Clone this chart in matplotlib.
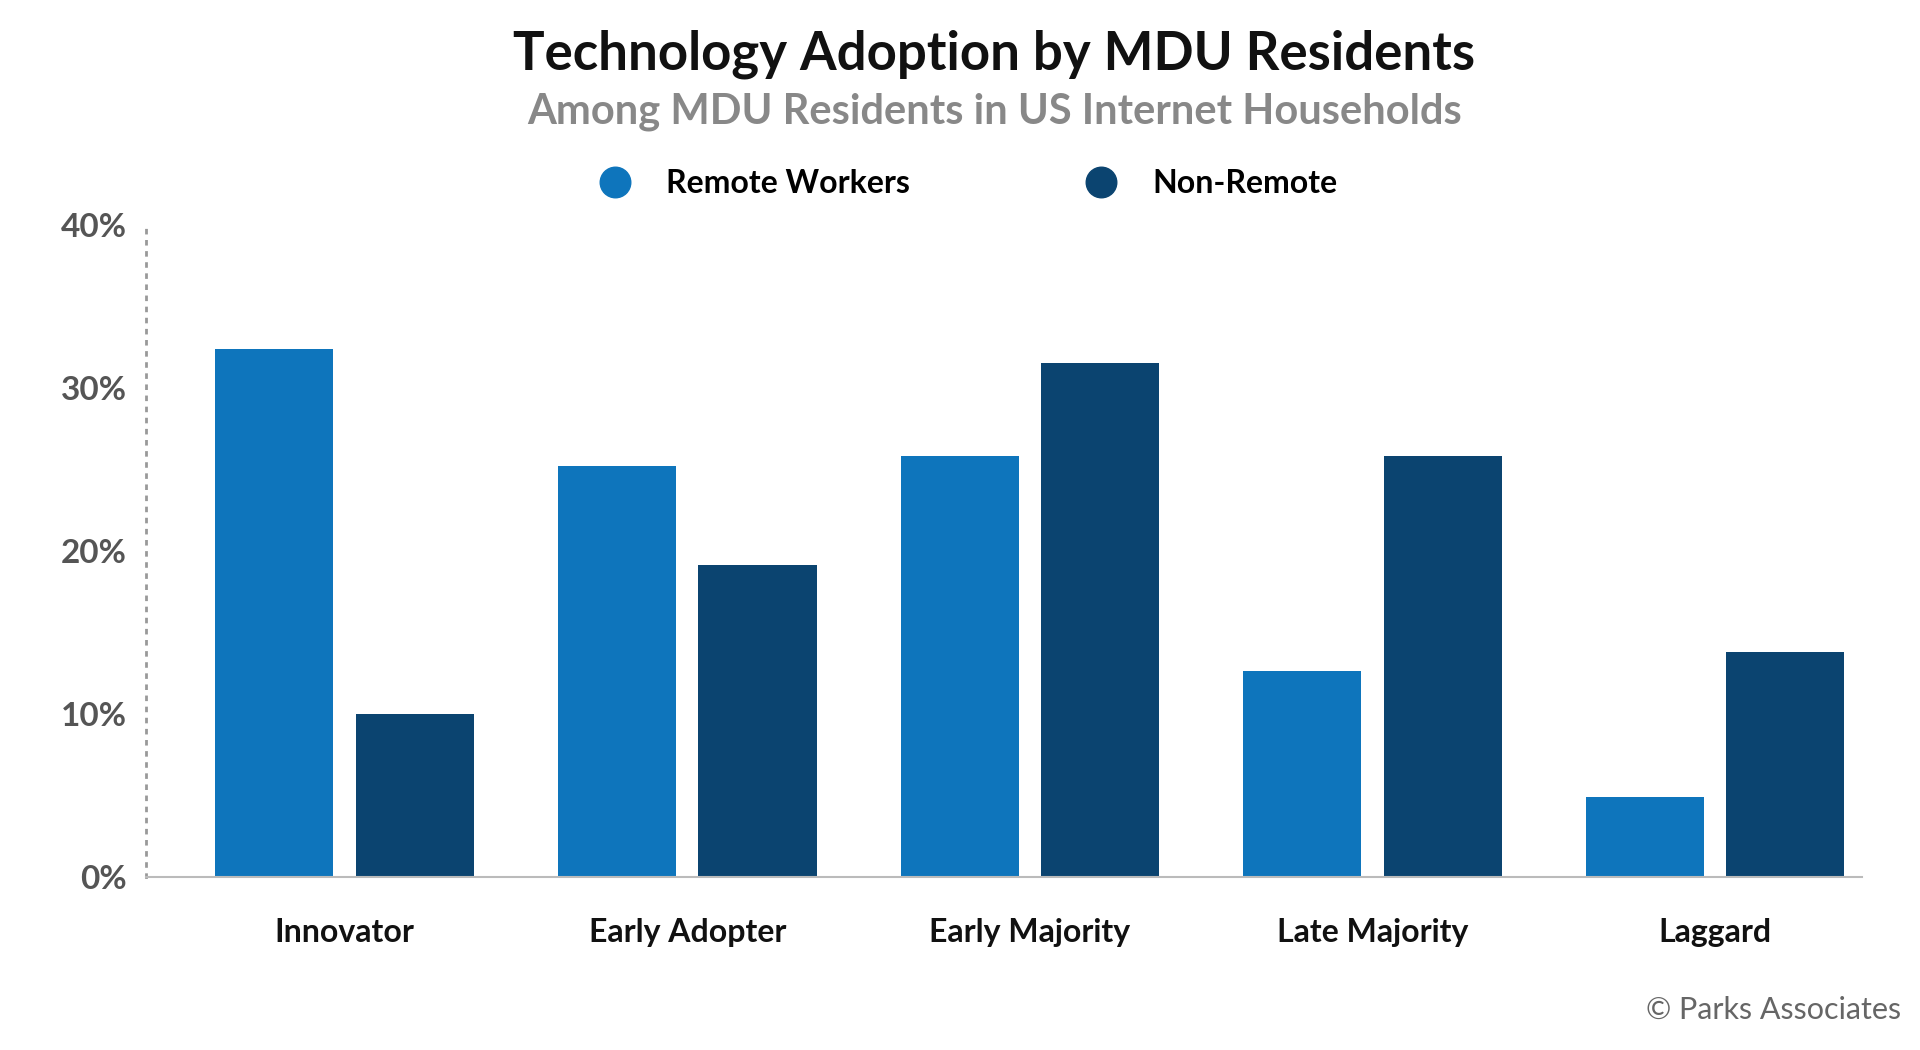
import matplotlib.pyplot as plt
import numpy as np

categories = ["Innovator", "Early Adopter", "Early Majority", "Late Majority", "Laggard"]
remote = [32.4, 25.2, 25.8, 12.6, 4.9]
non_remote = [10.0, 19.1, 31.5, 25.8, 13.8]
yticks = [0, 10, 20, 30, 40]

c_remote = "#0e75bc"
c_non = "#0b4470"

plt.rcParams['font.family'] = ['Lato', 'DejaVu Sans']

fig = plt.figure(figsize=(19.2, 10.5), dpi=100)
ax = fig.add_axes([0.076, 0.165, 0.894, 0.621])

x = np.arange(len(categories))
w = 0.345
off = 0.205
ax.bar(x - off, remote, w, color=c_remote, label="Remote Workers")
ax.bar(x + off, non_remote, w, color=c_non, label="Non-Remote")

ax.set_xlim(-0.58, 4.43)
ax.set_ylim(0, 40)
ax.set_yticks(yticks)
ax.set_yticklabels([f"{v}%" for v in yticks], fontsize=24, fontweight='bold', color="#555555")
ax.set_xticks(x)
ax.set_xticklabels(categories, fontsize=23, fontweight='bold', color="#111111")
ax.tick_params(axis='both', length=0)
ax.tick_params(axis='x', pad=30)
ax.tick_params(axis='y', pad=14)
for s in ['top', 'right']:
    ax.spines[s].set_visible(False)
ax.spines['left'].set_linestyle((0, (1, 3)))
ax.spines['left'].set_color("#999999")
ax.spines['left'].set_linewidth(2)
ax.spines['bottom'].set_color("#bbbbbb")
ax.spines['bottom'].set_linewidth(1.5)

fig.text(0.518, 0.972, "Technology Adoption by MDU Residents", ha='center', va='top',
         fontsize=38, fontweight='bold', color="#111111")
fig.text(0.518, 0.912, "Among MDU Residents in US Internet Households", ha='center', va='top',
         fontsize=30, fontweight='bold', color="#888888")

handles = [plt.Line2D([], [], marker='o', ls='', markersize=22, color=c) for c in (c_remote, c_non)]
fig.legend(handles, ["Remote Workers", "Non-Remote"], loc='center', bbox_to_anchor=(0.5, 0.825),
           ncol=2, frameon=False, fontsize=23, columnspacing=5, handletextpad=0.6,
           prop={'weight': 'bold', 'size': 23})

fig.text(0.99, 0.025, "© Parks Associates", ha='right', va='bottom', fontsize=22, color="#666666")

fig.savefig("out.png", dpi=100)
